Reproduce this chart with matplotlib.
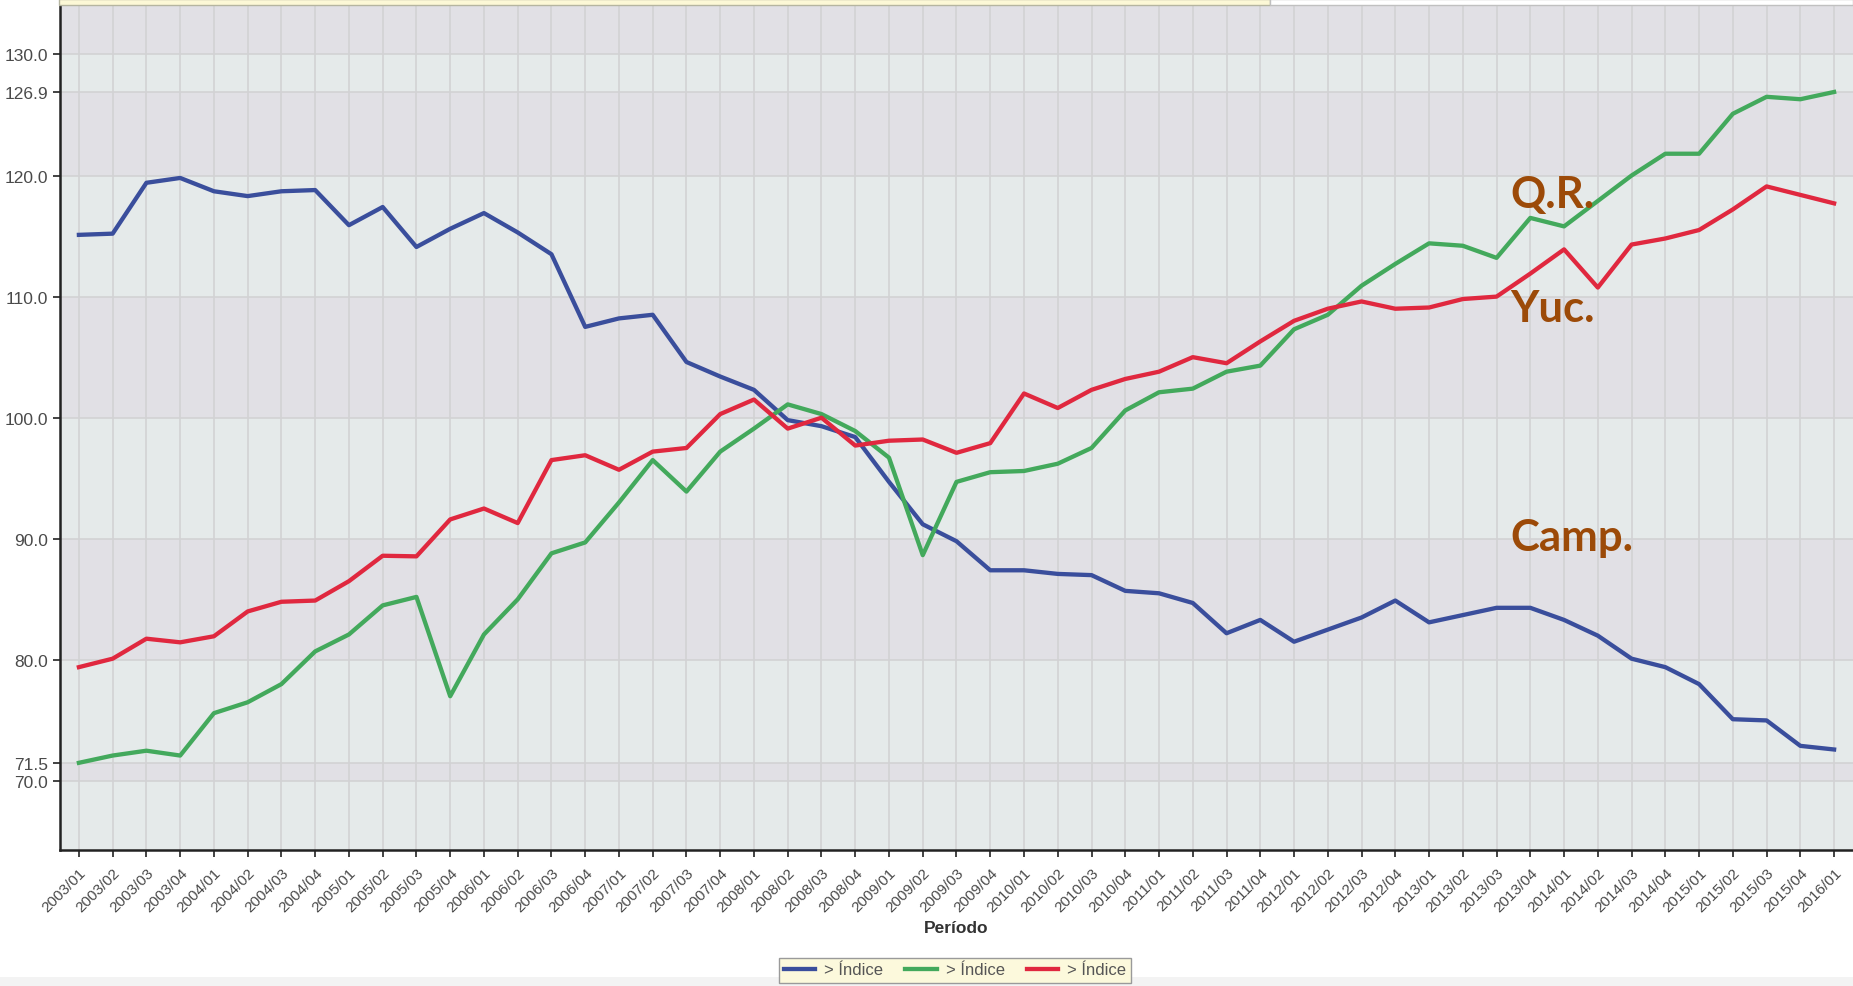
import matplotlib
matplotlib.use("Agg")
import matplotlib.pyplot as plt
from matplotlib.patches import Rectangle

# periodos trimestrales 2003/01 .. 2016/01
periodos = [f"{a}/{t:02d}" for a in range(2003, 2016) for t in range(1, 5)] + ["2016/01"]

campeche = [115.1, 115.2, 119.4, 119.8, 118.7, 118.3, 118.7, 118.8, 115.9, 117.4,
            114.1, 115.6, 116.9, 115.3, 113.5, 107.5, 108.2, 108.5, 104.6, 103.4,
            102.3, 99.8, 99.3, 98.4, 94.7, 91.2, 89.8, 87.4, 87.4, 87.1,
            87.0, 85.7, 85.5, 84.7, 82.2, 83.3, 81.5, 82.5, 83.5, 84.9,
            83.1, 83.7, 84.3, 84.3, 83.3, 82.0, 80.1, 79.4, 78.0, 75.1,
            75.0, 72.9, 72.6]

quintana_roo = [71.5, 72.1, 72.5, 72.1, 75.6, 76.5, 78.0, 80.7, 82.1, 84.5,
                85.2, 77.0, 82.1, 85.0, 88.8, 89.7, 93.0, 96.5, 93.9, 97.2,
                99.1, 101.1, 100.3, 98.9, 96.7, 88.65, 94.7, 95.5, 95.6, 96.2,
                97.5, 100.6, 102.1, 102.4, 103.8, 104.3, 107.3, 108.5, 110.9, 112.7,
                114.4, 114.2, 113.2, 116.5, 115.8, 117.9, 120.0, 121.8, 121.8, 125.1,
                126.5, 126.3, 126.9]

yucatan = [79.4, 80.1, 81.75, 81.45, 81.95, 84.0, 84.8, 84.9, 86.5, 88.6,
           88.55, 91.6, 92.5, 91.3, 96.5, 96.9, 95.7, 97.2, 97.5, 100.3,
           101.5, 99.1, 100.0, 97.7, 98.1, 98.2, 97.1, 97.9, 102.0, 100.8,
           102.3, 103.2, 103.8, 105.0, 104.5, 106.3, 108.0, 109.0, 109.6, 109.0,
           109.1, 109.8, 110.0, 111.9, 113.9, 110.75, 114.3, 114.8, 115.5, 117.2,
           119.1, 118.4, 117.7]

y_ticks = [70.0, 71.5, 80.0, 90.0, 100.0, 110.0, 120.0, 126.9, 130.0]
etiquetas = [("Q.R.", 117.4), ("Yuc.", 108.0), ("Camp.", 89.1)]

AZUL = "#3a4e9c"
VERDE = "#43a95c"
ROJO = "#e0283f"
CAFE = "#9c4a08"
BANDA_OSCURA = "#e1e0e5"
BANDA_CLARA = "#e5eaea"

W, H = 1853, 987
fig = plt.figure(figsize=(W / 100, H / 100), dpi=100)
fig.patch.set_facecolor("white")

ax = fig.add_axes([60 / W, (H - 851) / H, (W - 60) / W, (851 - 7) / H])

ymin, ymax = 64.3, 134.0
x = list(range(len(periodos)))

# bandas alternas entre las marcas del eje y
limites = [ymin] + y_ticks + [ymax]
for k in range(len(limites) - 1):
    color = BANDA_CLARA if k % 2 == 0 else BANDA_OSCURA
    ax.axhspan(limites[k], limites[k + 1], color=color, lw=0, zorder=0)

for xi in x:
    ax.axvline(xi, color="#d2d2d4", lw=1.2, zorder=1)
for yt in y_ticks:
    ax.axhline(yt, color="#d2d2d4", lw=1.2, zorder=1)

l1, = ax.plot(x, campeche, color=AZUL, lw=3.1, zorder=3, solid_joinstyle="round")
l2, = ax.plot(x, quintana_roo, color=VERDE, lw=3.1, zorder=3, solid_joinstyle="round")
l3, = ax.plot(x, yucatan, color=ROJO, lw=3.1, zorder=3, solid_joinstyle="round")

for txt, yv in etiquetas:
    ax.text(42.4, yv, txt, color=CAFE, fontsize=31.5, fontweight="bold",
            family=["Lato", "DejaVu Sans"], ha="left", va="baseline", zorder=4)

ax.set_xlim(-0.56, len(periodos) - 1 + 0.56)
ax.set_ylim(ymin, ymax)

ax.set_yticks(y_ticks)
ax.set_yticklabels([f"{v:.1f}" for v in y_ticks], fontsize=12.5, color="#4a4a4a",
                   family="Liberation Sans")
ax.set_xticks(x)
ax.set_xticklabels(periodos, rotation=45, ha="right", rotation_mode="anchor",
                   fontsize=11, color="#4a4a4a", family="Liberation Sans")
ax.tick_params(axis="both", direction="out", length=5, width=1.2, color="#222222")
ax.tick_params(axis="x", pad=6)

for s in ["top", "right"]:
    ax.spines[s].set_visible(False)
for s in ["left", "bottom"]:
    ax.spines[s].set_color("#222222")
    ax.spines[s].set_linewidth(1.8)

ax.set_xlabel("Período", fontsize=12.5, fontweight="bold", color="#333333",
              family="Liberation Sans")
ax.xaxis.set_label_coords((956 - 60) / (W - 60), -(929 - 851) / (851 - 7))
ax.xaxis.label.set_va("center")

# franja superior (recuadro amarillo recortado) y franja inferior
fig.patches.append(Rectangle((59 / W, (H - 6) / H), (1270 - 59) / W, 6 / H,
                             transform=fig.transFigure, facecolor="#fcf8d6",
                             edgecolor="#b5b5a0", lw=1))
fig.patches.append(Rectangle((1270 / W, (H - 6) / H), (W - 1270) / W, 6 / H,
                             transform=fig.transFigure, facecolor="white",
                             edgecolor="#c0c0c0", lw=1))
fig.patches.append(Rectangle((0, 0), 1, 9 / H, transform=fig.transFigure,
                             facecolor="#f3f3f3", edgecolor="none", zorder=0))

leg = fig.legend([l1, l2, l3], ["> Índice", "> Índice", "> Índice"], ncol=3,
                 loc="center", bbox_to_anchor=(955 / W, 16 / H),
                 frameon=True, fancybox=False,
                 facecolor="#fcf9dc", edgecolor="#9a9a9a", framealpha=1,
                 handlelength=1.9, handletextpad=0.55, columnspacing=1.3,
                 borderpad=0.3, prop={"family": "Liberation Sans", "size": 12})
for t in leg.get_texts():
    t.set_color("#555555")

fig.savefig("out.png", dpi=100)
